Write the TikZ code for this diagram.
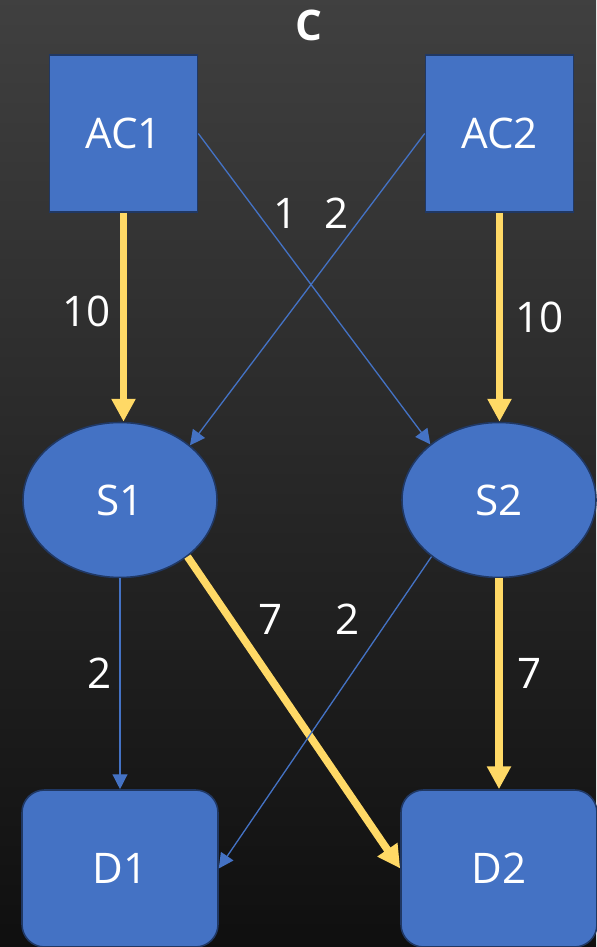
\documentclass[tikz,border=0pt]{standalone}
\usepackage{fontspec}
\setmainfont{Open Sans}
\usetikzlibrary{arrows.meta,shapes.geometric}
\definecolor{nodeblue}{HTML}{4472C4}
\definecolor{darkrim}{HTML}{203864}
\definecolor{flowgold}{HTML}{FFD966}

\begin{document}
\begin{tikzpicture}[
  every node/.style={text=white, font=\fontsize{24}{28}\selectfont},
  acbox/.style={draw=darkrim, fill=nodeblue, line width=0.9pt, minimum width=2.96cm, minimum height=3.14cm},
  sell/.style={ellipse, draw=darkrim, fill=nodeblue, line width=0.9pt, minimum width=3.88cm, minimum height=3.10cm},
  dbox/.style={acbox, rounded corners=0.45cm, minimum width=3.92cm},
  lowflow/.style={draw=nodeblue, line width=0.75pt, -{Triangle[width=8.5pt,length=8.5pt]}},
  bigflow/.style={draw=flowgold, line width=4.3pt, -{Triangle[width=13pt,length=13pt]}},
  lbl/.style={inner sep=0pt}]
\path[use as bounding box] (0,0) rectangle (11.92,18.94);
\shade[top color=black!75, bottom color=black!94] (0,0) rectangle (11.92,18.94);

\node (title) at (6.18,18.44) {\bfseries C};
\node[acbox] (AC1) at (2.47,16.27) {AC1};
\node[acbox] (AC2) at (9.99,16.27) {AC2};
\node[sell] (S1) at (2.40,8.94) {S1};
\node[sell] (S2) at (9.98,8.94) {S2};
\node[dbox] (D1) at (2.40,1.57) {D1};
\node[dbox] (D2) at (9.98,1.57) {D2};

\draw[bigflow] (AC1.south) -- node[lbl, pos=.47, left=0.18cm] (l11) {10} (AC1.south |- S1.north);
\draw[bigflow] (AC2.south) -- node[lbl, pos=.5, right=0.24cm] (l22) {10} (AC2.south |- S2.north);
\draw[lowflow] (AC1.east) -- node[lbl, pos=.256, right=0.3cm] (l12) {1} (S2.141);
\draw[lowflow] (AC2.west) -- node[lbl, pos=.256, left=0.3cm] (l21) {2} (S1.38);
\draw[lowflow] (S1.south) -- node[lbl, pos=.45, left=0.16cm] (l1d1) {2} (D1.north);
\draw[bigflow] (S1.320) -- node[lbl, pos=.2, right=0.5cm] (l1d2) {7} (D2.west);
\draw[lowflow] (S2.220) -- node[lbl, pos=.2, left=0.57cm] (l2d1) {2} (D1.east);
\draw[bigflow] (S2.south) -- node[lbl, pos=.45, right=0.3cm] (l2d2) {7} (D2.north);
\end{tikzpicture}
\end{document}
